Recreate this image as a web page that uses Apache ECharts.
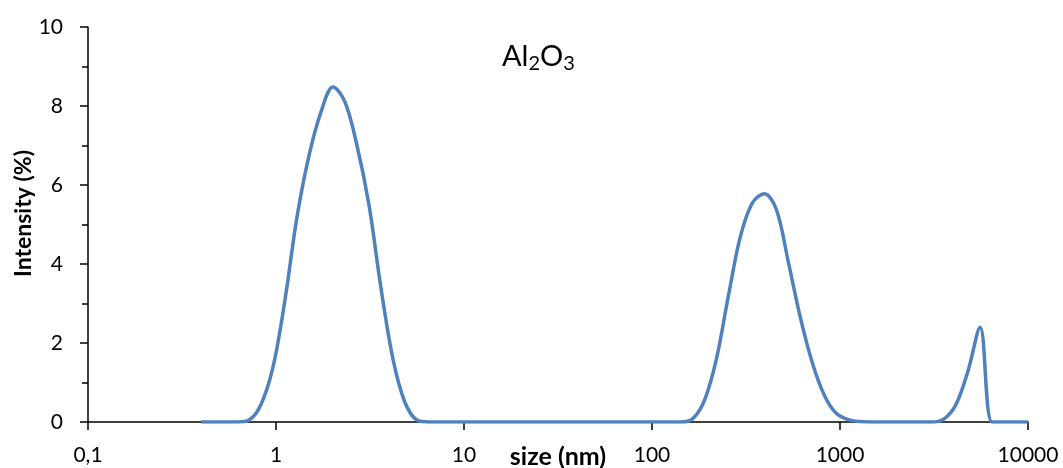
<!DOCTYPE html>
<html>
<head>
<meta charset="utf-8">
<script src="https://cdn.jsdelivr.net/npm/echarts@6/dist/echarts.min.js"></script>
<style>
  html, body { margin: 0; padding: 0; background: #fff; }
  #chart { width: 1063px; height: 468px; }
</style>
</head>
<body>
<div id="chart"></div>
<script>
// Particle size bins (nm), log-spaced
const sizes = [
  0.4, 0.4632, 0.5365, 0.6213, 0.7195, 0.8332, 0.9649, 1.117, 1.294, 1.499,
  1.736, 2.01, 2.328, 2.696, 3.122, 3.615, 4.187, 4.849, 5.615, 6.503,
  7.531, 8.721, 10.1, 11.7, 13.54, 15.69, 18.17, 21.04, 24.36, 28.21,
  32.67, 37.84, 43.82, 50.75, 58.77, 68.06, 78.82, 91.28, 105.7, 122.4,
  141.8, 164.2, 190.1, 220.2, 255, 295.3, 342, 396.1, 458.7, 531.2,
  615.1, 712.4, 825, 955.4, 1106, 1281, 1484, 1718, 1990, 2305,
  2669, 3091, 3580, 4145, 4801, 5560, 6439, 7456, 8635, 10000
];
// Intensity (%) per size bin
const intensity = [
  0, 0, 0, 0, 0.05, 0.45, 1.4, 3.1, 5.2, 6.75,
  7.85, 8.48, 8.1, 7.0, 5.5, 3.4, 1.6, 0.5, 0.05, 0,
  0, 0, 0, 0, 0, 0, 0, 0, 0, 0,
  0, 0, 0, 0, 0, 0, 0, 0, 0, 0,
  0, 0.08, 0.55, 1.6, 3.2, 4.7, 5.55, 5.78, 5.38, 4.05,
  2.65, 1.5, 0.68, 0.22, 0.06, 0.01, 0, 0, 0, 0,
  0, 0, 0.08, 0.45, 1.3, 2.4, 0, 0, 0, 0
];
const xTicks = [0.1, 1, 10, 100, 1000, 10000];
const yTicks = [0, 2, 4, 6, 8, 10];

const font = 'Lato, "Open Sans", sans-serif';
const chart = echarts.init(document.getElementById('chart'), null, { renderer: 'canvas' });

chart.setOption({
  animation: false,
  backgroundColor: '#fff',
  title: {
    text: '{a|Al}{s|2}{a|O}{s|3}',
    left: 497,
    top: 37,
    textStyle: {
      fontWeight: 'normal',
      rich: {
        a: { fontFamily: font, fontSize: 29, fontWeight: 'normal', color: '#000', lineHeight: 40, verticalAlign: 'top' },
        s: { fontFamily: font, fontSize: 20, fontWeight: 'normal', color: '#000', lineHeight: 40, verticalAlign: 'top', padding: [12, 0, 0, 0] }
      }
    }
  },
  grid: { left: 88, right: 35, top: 27, bottom: 46, outerBoundsMode: 'none', containLabel: false },
  xAxis: {
    type: 'log',
    logBase: 10,
    min: xTicks[0],
    max: xTicks[xTicks.length - 1],
    name: 'size (nm)',
    nameLocation: 'middle',
    nameGap: 22,
    nameMoveOverlap: false,
    nameTextStyle: { fontFamily: font, fontSize: 25, fontWeight: 'bold', color: '#000' },
    axisLine: { show: true, onZero: false, lineStyle: { color: '#000', width: 1.5 } },
    axisTick: { show: true, inside: false, length: 8, lineStyle: { color: '#000', width: 1.5 } },
    minorTick: { show: false },
    splitLine: { show: false },
    axisLabel: {
      margin: 23,
      fontFamily: font,
      fontSize: 21,
      color: '#000',
      formatter: v => String(v).replace('.', ',')
    }
  },
  yAxis: {
    type: 'value',
    min: yTicks[0],
    max: yTicks[yTicks.length - 1],
    interval: 2,
    name: 'Intensity (%)',
    nameLocation: 'middle',
    nameGap: 53,
    nameMoveOverlap: false,
    nameTextStyle: { fontFamily: font, fontSize: 23, fontWeight: 'bold', color: '#000', padding: [0, 0, 0, 22] },
    axisLine: { show: true, lineStyle: { color: '#000', width: 1.5 } },
    axisTick: { show: true, inside: false, length: 8, lineStyle: { color: '#000', width: 1.5 } },
    minorTick: { show: true, splitNumber: 2, length: 6, lineStyle: { color: '#000', width: 1.5 } },
    splitLine: { show: false },
    axisLabel: { margin: 25, fontFamily: font, fontSize: 21, color: '#000' }
  },
  series: [{
    type: 'line',
    data: sizes.map((s, i) => [s, intensity[i]]),
    smooth: 0.35,
    showSymbol: false,
    lineStyle: { color: '#4F81BD', width: 3.5 },
    itemStyle: { color: '#4F81BD' }
  }]
});
</script>
</body>
</html>
